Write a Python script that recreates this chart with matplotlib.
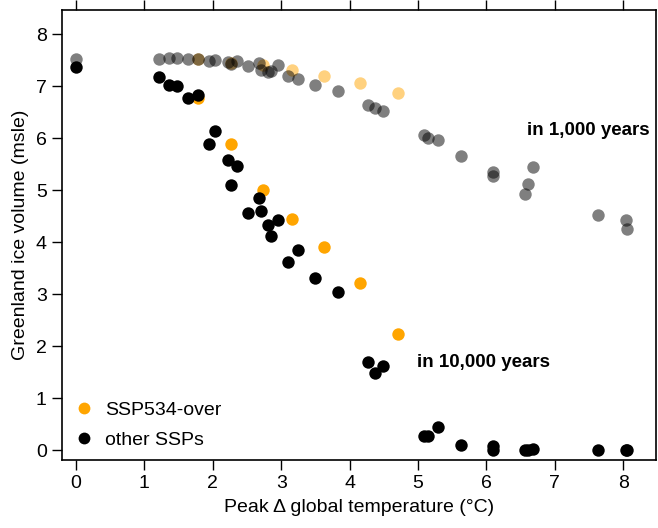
import matplotlib
matplotlib.use("Agg")
import matplotlib.pyplot as plt
from matplotlib.lines import Line2D

plt.rcParams['font.family'] = ['Liberation Sans', 'DejaVu Sans']

# SSP534-over runs: peak warming and ice volume after 1,000 / 10,000 years
over_temp = [1.78, 2.26, 2.73, 3.16, 3.63, 4.15, 4.71]
over_1k = [7.52, 7.44, 7.40, 7.31, 7.20, 7.05, 6.87]
over_10k = [6.78, 5.88, 5.01, 4.45, 3.91, 3.22, 2.24]

# all other SSP runs
other_temp = [0.0, 1.21, 1.355, 1.47, 1.63, 1.78, 1.945, 2.03, 2.22, 2.26,
              2.36, 2.52, 2.675, 2.70, 2.81, 2.85, 2.95, 3.10, 3.25, 3.49,
              3.83, 4.27, 4.37, 4.49, 5.08, 5.15, 5.29, 5.63, 6.09, 6.10,
              6.56, 6.60, 6.68, 7.63, 8.04, 8.06]
other_1k = [7.53, 7.53, 7.54, 7.54, 7.53, 7.52, 7.49, 7.51, 7.46, 7.43,
            7.48, 7.39, 7.44, 7.31, 7.27, 7.29, 7.40, 7.20, 7.13, 7.03,
            6.90, 6.63, 6.57, 6.53, 6.06, 6.00, 5.97, 5.65, 5.27, 5.34,
            4.92, 5.12, 5.45, 4.53, 4.42, 4.25]
other_10k = [7.36, 7.18, 7.03, 7.00, 6.78, 6.82, 5.89, 6.13, 5.58, 5.10,
             5.46, 4.56, 4.84, 4.59, 4.33, 4.11, 4.43, 3.61, 3.85, 3.30,
             3.04, 1.70, 1.48, 1.61, 0.27, 0.28, 0.44, 0.10, 0.00, 0.08,
             0.00, 0.01, 0.03, 0.01, 0.01, 0.00]

orange = '#FFA500'
ms = 80
fs = 14

fig = plt.figure(figsize=(6.58, 5.28), dpi=100)
ax = fig.add_axes([0.0942, 0.1288, 0.903, 0.852])

# after 1,000 years (faded)
ax.scatter(over_temp, over_1k, s=ms, color=orange, alpha=0.5, linewidths=0)
ax.scatter(other_temp, other_1k, s=ms, color='black', alpha=0.5, linewidths=0)
# after 10,000 years
ax.scatter(over_temp, over_10k, s=ms, color=orange, linewidths=0)
ax.scatter(other_temp, other_10k, s=ms, color='black', linewidths=0)

ax.text(6.59, 6.15, 'in 1,000 years', fontsize=13.5, fontweight='bold', va='center')
ax.text(4.99, 1.69, 'in 10,000 years', fontsize=13.5, fontweight='bold', va='center')

ax.set_xlim(-0.205, 8.48)
ax.set_ylim(-0.19, 8.46)
ax.set_xticks(range(0, 9))
ax.set_yticks(range(0, 9))
ax.tick_params(axis='both', direction='out', length=7, width=1, labelsize=fs,
               pad=4, top=True, labeltop=False)
for sp in ax.spines.values():
    sp.set_linewidth(1.2)

ax.set_xlabel('Peak \u0394 global temperature (\u00b0C)', fontsize=fs, labelpad=5)
ax.set_ylabel('Greenland ice volume (msle)', fontsize=fs, labelpad=5)

handles = [Line2D([], [], marker='o', ls='', color=orange, markersize=8.5, markeredgewidth=0),
           Line2D([], [], marker='o', ls='', color='black', markersize=8.5, markeredgewidth=0)]
ax.legend(handles, ['SSP534-over', 'other SSPs'], loc='lower left', frameon=False,
          fontsize=fs, handlelength=1.0, handletextpad=0.58, labelspacing=0.65,
          borderpad=0, borderaxespad=0, bbox_to_anchor=(12.3 / 594, 11 / 450))

fig.savefig('out.png', dpi=100)
